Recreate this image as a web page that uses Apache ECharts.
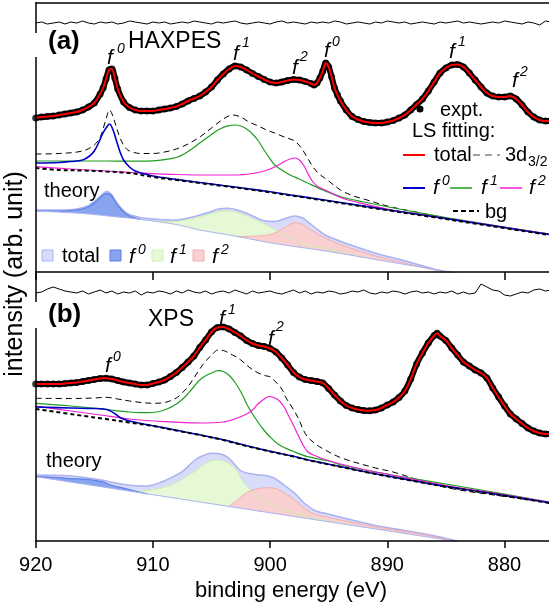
<!DOCTYPE html>
<html>
<head>
<meta charset="utf-8">
<script src="https://cdn.jsdelivr.net/npm/echarts@6/dist/echarts.min.js"></script>
<style>
html,body{margin:0;padding:0;background:#fff;}
#chart{width:549px;height:607px;}
</style>
</head>
<body>
<div id="chart"></div>
<script>
// Binding-energy axis (eV, plotted high to low)
const energyTicks = [880, 890, 900, 910, 920];

// ---------- (a) HAXPES ----------
const exptA = [[920,154],[919.5,155],[919,155.5],[918.5,156],[918,157],[917.5,158],[917,159],[916.5,160],[916,162],[915.5,165],[915,169],[914.5,178],[914.25,184],[914,193],[913.75,202],[913.5,203],[913.25,194],[913,183],[912.5,170],[912,164.5],[911.5,162],[911,161],[910.5,161],[910,161],[909.5,162],[909,163],[908.5,164],[908,165.5],[907.5,168],[907,171],[906.5,173.5],[906,176],[905.5,180],[905,185],[904.5,192],[904,198],[903.5,203],[903,206],[902.5,205],[902,202],[901.5,198.5],[901,195.5],[900.5,192.5],[900,190],[899.5,189],[899,190],[898.5,191.5],[898,192.5],[897.5,192],[897,190.5],[896.5,188.5],[896.25,187],[896,189],[895.75,194],[895.5,201],[895.25,209],[895,205],[894.75,195],[894.5,184],[894.25,177],[894,171],[893.5,162],[893,155.5],[892.5,152.5],[892,150.5],[891.5,149.5],[891,149],[890.5,149],[890,150],[889.5,151.5],[889,154],[888.5,157],[888,162],[887.5,167.5],[887,173],[886.5,181],[886,190],[885.5,199],[885,204],[884.5,207],[884,207.5],[883.5,205],[883,199],[882.5,192],[882,185],[881.5,179],[881,176],[880.5,175],[880,175],[879.5,176],[879,173],[878.5,167],[878,160],[877.5,155],[877,152],[876.5,151],[876,151]];
const bgA = [[920,104],[918,102],[916,101.5],[914,100.5],[912,99],[910,95],[908,92],[906,89],[904,86],[902,83],[900,79.7],[897,74.4],[894,69],[890,61.8],[886,54.7],[882,47.5],[876,36.7]];
const f0A = [[920,109],[918,109.5],[917,110.5],[916,112],[915.4,116],[915,121],[914.6,130],[914.3,138],[914,144],[913.7,148],[913.4,142],[913.1,131],[912.8,120],[912.5,112],[912,105],[911.5,101],[911,99],[910,96],[908,92.6],[906,89.5],[904,86.5],[902,83.5],[900,80.2],[897,74.9],[894,69.5],[890,62.3],[886,55.2],[882,48],[876,37.2]];
const f1A = [[920,111],[917,111],[914,111],[912,110.8],[910,111.2],[909,112.3],[908,114.5],[907.5,117],[907,120.5],[906.5,124.5],[906,129],[905.3,135],[904.7,140],[904.2,143.5],[903.6,146.2],[903,147],[902.5,146],[902,143],[901.5,138],[901,131],[900.4,120],[899.6,107],[899,102],[898.3,97],[897.5,93],[896.8,89],[895.5,82],[893.9,75],[892,70],[889,63],[885,54.5],[880,44.8],[876,37.7]];
const f2A = [[920,105.3],[917,103],[914,101],[911,99],[908,97.5],[905,97],[903,97],[901.5,98.5],[900.5,101],[899.6,105],[898.7,111],[898.3,113],[897.9,114],[897.5,112],[897.1,106],[896.8,99],[896.4,91],[896,86],[895.3,82],[894.6,78],[893.9,74],[892.5,69.5],[890,63],[886,55.5],[882,48.3],[876,37.5]];
const d32A = [[920,118],[918,118.5],[916,121],[915,127],[914.5,135],[914.2,145],[913.95,155],[913.7,162],[913.45,157],[913.15,146],[912.8,134],[912.4,125],[912,121],[911,118.5],[910,118.5],[909,120],[908,123],[907,128],[906,135],[905,144],[904,153],[903.2,157],[902.5,155],[901.8,150],[901,146],[900.3,142],[899.6,139],[899,136],[898.3,133],[897.9,131],[897.4,125],[896.9,116],[896.4,106],[895.9,99],[895,91],[894,82],[893,76.5],[892,73],[890,66],[888,61],[885,54],[882,48.5],[879,43],[876,37.7]];
const residA = [249,250,248,249,250,248,250,249,251,249,248,250,249,250,248,249,251,250,249,248,250,249,250,248,249,250,249,251,250,249,248,250,249,250,251,249,248,249,250,249,248,250,251,249,250,249,248,250,249,250,249,251,250,248,249,250,249,248,250,249,251,250,249,250,248,249,250,249,248,250,249,250,251,249,250,249,248,249,250,249,251,250,249,248,250,249,247,251,250];
// theory (a)
const thBaseA = [[920,61],[916,58.5],[913,55],[911.1,52.7],[908,47.5],[906,42],[903,36],[899.75,28.7],[895,20.5],[890,10.5],[885.67,2],[884,-1.5]];
const thTotA = [[920,62],[918,62],[916.5,63],[915.5,66.5],[914.8,72.5],[914.3,78],[913.95,80.5],[913.6,78.5],[913.2,71.5],[912.9,66.5],[912.4,60.5],[911.9,57],[911.1,54.5],[910,53],[909,52.3],[908.2,52],[907,54],[906,57],[905,60.5],[904.5,62.7],[903.6,63.7],[902.8,62],[902,58.7],[901.3,55],[900.6,51.5],[899.6,50.5],[898.7,53.5],[897.9,56],[897.2,54],[896.8,50.3],[896,43],[895.3,37],[894.5,33],[893.9,30.3],[891,18.7],[888.2,10.3],[885.7,2],[884,-1.5]];
const thF0A = [[920,61],[918,61],[916.5,62],[915.5,65],[914.8,71],[914.3,76.5],[913.95,78.7],[913.6,77],[913.2,70],[912.9,65],[912.4,59],[911.9,55.5],[911.1,52.7]];
const thF1A = [[911.1,52.7],[910,51],[909,50.6],[908.2,50.3],[907,52.5],[906,55.3],[905,58.5],[904.5,60.3],[903.6,61],[902.8,59.5],[902,56],[901.3,52.5],[900.6,48.7],[899.8,44],[899,38],[898,33],[897,27],[895,23],[893,17],[892,14.5]];
const thF2A = [[903,36],[902.6,35.2],[901.5,35.8],[900.5,36.5],[899.6,39],[898.7,44.5],[897.9,49.3],[897.2,47.5],[896.8,44],[895.3,34],[893.9,27],[891,16],[888.2,8],[885.7,1.3],[884,-1.5]];

// ---------- (b) XPS ----------
const exptB = [[920,157],[919.5,157],[919,157],[918.5,157],[918,157],[917.5,157.5],[917,158],[916.5,158.5],[916,159.5],[915.5,160.5],[915,161.5],[914.5,162.5],[914,162.7],[913.5,162],[913,160.5],[912.5,159],[912,158],[911.5,157],[911,156],[910.5,156],[910,157.5],[909.5,159],[909,161],[908.5,164.5],[908,168.5],[907.5,173.5],[907,179],[906.5,185],[906,193.5],[905.5,201],[905,209],[904.5,213.5],[904,214],[903.5,212],[903,208.5],[902.5,205],[902,200.5],[901.5,197.5],[901,195.5],[900.5,194.5],[900,192.5],[899.5,189],[899,183],[898.5,176],[898,168.5],[897.5,164],[897,161.5],[896.5,160.5],[896,159.5],[895.5,158],[895,152.5],[894.5,146],[894,140],[893.5,135.5],[893,133],[892.5,131.5],[892,130.5],[891.5,130.3],[891,131],[890.5,133],[890,136],[889.5,139],[889,143.5],[888.5,150],[888,162],[887.5,177],[887,188],[886.5,198],[886,205.5],[885.75,207.7],[885.5,205],[885,200.5],[884.5,193],[884,186],[883.5,179],[883,175],[882.5,171],[882,168],[881.5,163],[881,153],[880.5,144],[880,135],[879.5,127],[879,122],[878.5,117.5],[878,113],[877.5,110],[877,108],[876.5,107],[876,107]];
const bgB = [[920,132],[916,125.2],[914,122],[912,118.5],[910,115],[908,110.5],[906,106],[904,101],[902,95],[900,89.5],[898,84.5],[896.8,81],[893.9,74],[891,67],[888.2,61],[884.6,53.5],[880.4,46],[876,37.6]];
const f0B = [[920,134],[917,133],[915,132.5],[914.2,132],[913.7,130.5],[913.2,127],[912.8,123.5],[912.3,121],[911.8,119.5],[911,117.5],[910,115.3],[909.4,114],[908,110.7],[906,106.2],[904,101.2],[902,95.2],[900,89.7],[898,84.7],[896.8,81.2],[893.9,74.2],[891,67.2],[888.2,61.2],[884.6,53.7],[880.4,46.2],[876,37.8]];
const f1B = [[920,137.7],[917,135],[914,131.5],[912,129],[911,128.3],[910,128.5],[909.3,130],[908.7,132.5],[908.2,135.5],[907.7,139.5],[907.1,146],[906.6,153],[906.1,160],[905.6,164.5],[905,168],[904.45,170.3],[903.9,169],[903.4,164.5],[902.9,157],[902.4,147],[902,137],[901.6,129],[901.1,120],[900.6,112],[900,104],[899.2,96],[898,89.5],[896.8,84.3],[895,80],[893.9,76],[891,69],[888,62.8],[884,55],[880,46.8],[876,38.5]];
const f2B = [[920,135],[917,130],[914.5,126],[912,122],[909,119.3],[906,118],[904,119],[903,122],[902,127],[901.5,131],[901,137.5],[900.5,142],[900.1,144.5],[899.7,143.5],[899.3,141],[898.8,134],[898.5,127],[898.1,118],[897.7,108],[897.3,98.5],[896.8,89.3],[896,84.5],[895.3,81.5],[894,77],[892,71.5],[889,64.5],[885,55.5],[880.4,47],[876,38.5]];
const d32B = [[920,142.7],[917,142.5],[915,143],[914,143.7],[913,142],[912,140],[911,138.5],[910,137.7],[909,138.5],[908,143],[907.5,148],[907,154.3],[906.5,163],[906,172],[905.5,180],[905,185.5],[904.45,191],[904,190.5],[903.2,186],[902.5,181],[901.7,173],[901,168],[900.3,165],[900,164.3],[899.6,160],[899,152],[898.7,144.3],[898.2,135],[897.6,123],[897.2,112],[896.8,104],[896,96],[895.3,91],[893.9,83],[891,73],[889.6,69.3],[885.3,54.3],[880,44.5],[876,38.5]];
const residB = [248,249,252,254,252,250,249,248,250,247,249,251,248,250,247,249,248,250,246,249,248,250,249,247,250,248,251,249,248,250,247,249,250,248,251,249,247,250,248,249,250,248,247,249,251,248,250,247,249,248,250,249,247,248,250,249,251,248,247,249,248,250,249,247,249,250,248,249,247,249,248,250,247,249,247,248,257,254,251,250,246,245,247,249,248,251,252,250,251];
// theory (b)
const thBaseB = [[920,64.3],[910,46.3],[900,28.2],[890,10.2],[884,-0.6]];
const thTotB = [[920,66],[917,65],[914.8,61.7],[912.1,56],[910.5,55],[909.2,59.3],[908.5,63],[907.5,69.3],[906.4,81],[905.7,85.5],[905,87.7],[904.2,87],[903.7,84.3],[903.2,79],[902.6,71],[901.9,67.7],[900.8,65.8],[900.3,65.3],[899.6,62.7],[898.7,55],[897.9,47.7],[897,37],[896.1,30],[895.3,27.7],[893,21],[891,15.5],[888,9.5],[885.3,3.5],[884,0]];
const thF0B = [[920,64.3],[918,63.5],[917.4,62.7],[915.5,61.5],[914.8,60.3],[914.1,58.5],[913.6,56],[912.2,52],[911,48.5],[910.5,47.2]];
const thF1B = [[911.6,49.3],[910.5,50.5],[909.2,53],[908.2,57.5],[907.1,64.3],[906.4,70],[905.7,76],[905,80.5],[904.5,81],[904,80],[903.3,76],[902.8,70],[902.4,61],[902,55],[901.7,51],[901.2,46],[900.5,40],[899.6,35],[898.5,30],[897,25],[895,20],[893,16]];
const thF2B = [[903.5,35],[902.9,40],[902.4,45],[901.9,49],[901.2,52],[900.3,53.3],[899.6,52.7],[898.7,47.5],[897.9,41],[897.1,33],[896.4,28],[895.3,24.3],[894,21],[891,14],[888,8.5],[885.3,2.7],[884,-0.6]];

// residuals are sampled every 0.5 eV starting at 920 eV
const residStep = 0.5;
const residPairs = arr => arr.map((v, i) => [920 - i * residStep, v]);

const FONT = '"Liberation Sans", Arial, Helvetica, sans-serif';
const C = {
  red: '#ff0000', blue: '#0000c8', green: '#1e9e1e', magenta: '#f21fd2',
  totFill: '#d9dbfa', totEdge: '#aab2f0',
  f0Fill: '#88a4ee', f0Edge: '#5c7fe4',
  f1Fill: '#e6f9d6', f1Edge: '#cdeeb5',
  f2Fill: '#f9cfcf', f2Edge: '#f3adad',
  baseLine: '#a9b4f0'
};

function lineS(data, xi, yi, color, width, dash, smooth) {
  return {
    type: 'line', data: data, xAxisIndex: xi, yAxisIndex: yi,
    symbol: 'none', smooth: smooth === undefined ? 0.35 : smooth,
    lineStyle: { color: color, width: width, type: dash || 'solid' },
    silent: true, animation: false
  };
}
function areaS(data, xi, yi, fill, edge, edgeWidth) {
  const s = lineS(data, xi, yi, edge, edgeWidth, 'solid');
  s.areaStyle = { color: fill, opacity: 1, origin: 'start' };
  return s;
}
function dots(data, xi, yi) {
  return {
    type: 'scatter', data: data, xAxisIndex: xi, yAxisIndex: yi,
    symbol: 'circle', symbolSize: 7, itemStyle: { color: '#000' },
    silent: true, animation: false
  };
}
function panelSeries(xi, yi, p) {
  return [
    // theory spectra (filled from baseline)
    areaS(p.thTot, xi, yi, C.totFill, C.totEdge, 1.5),
    areaS(p.thF1, xi, yi, C.f1Fill, C.f1Edge, 1),
    areaS(p.thF2, xi, yi, C.f2Fill, C.f2Edge, 1),
    areaS(p.thF0, xi, yi, C.f0Fill, C.f0Edge, 1.2),
    // white below the theory baseline
    areaS(p.thBase, xi, yi, '#ffffff', C.baseLine, 1),
    // residual
    lineS(residPairs(p.resid), xi, yi, '#000', 1, 'solid', false),
    // fit components
    lineS(p.d32, xi, yi, '#000', 1, [6, 4]),
    lineS(p.f1, xi, yi, C.green, 1.2),
    lineS(p.f2, xi, yi, C.magenta, 1.2),
    lineS(p.f0, xi, yi, C.blue, 1.6),
    lineS(p.bg, xi, yi, '#000', 2, [4, 3]),
    // experiment (dots over a dark band) and total fit
    lineS(p.expt, xi, yi, '#000', 6, 'solid', 0.3),
    dots(p.expt, xi, yi),
    lineS(p.expt, xi, yi, C.red, 2, 'solid', 0.3)
  ];
}

const axisLineStyle = { color: '#000', width: 1.5 };
function xAx(grid, pos, opts) {
  return Object.assign({
    gridIndex: grid, type: 'value', inverse: true, min: 870, max: 920, interval: 10,
    position: pos, z: 10,
    axisLine: { show: true, onZero: false, lineStyle: axisLineStyle },
    axisTick: { show: false }, axisLabel: { show: false }, splitLine: { show: false }
  }, opts || {});
}
function yAx(grid) {
  return {
    gridIndex: grid, type: 'value', min: 0, max: 269, z: 10,
    axisLine: { show: true, onZero: false, lineStyle: axisLineStyle },
    axisTick: { show: false }, axisLabel: { show: false }, splitLine: { show: false }
  };
}

function txt(x, y, s, size, extra) {
  return {
    type: 'text', x: x, y: y, z: 100,
    style: Object.assign({
      text: s, fontFamily: FONT, fontSize: size, fill: '#000',
      textAlign: 'left', align: 'left', textVerticalAlign: 'middle', verticalAlign: 'middle'
    }, extra || {})
  };
}
// italic f with superscript index
function fLab(x, y, sup, sx, sy, size, supSize) {
  return [
    txt(x, y, 'f', size || 21, { fontStyle: 'italic' }),
    txt(sx, sy, sup, supSize || 14, { fontStyle: 'italic' })
  ];
}
function seg(x1, y1, x2, y2, color, w, dash) {
  return { type: 'line', z: 100, shape: { x1: x1, y1: y1, x2: x2, y2: y2 },
    style: { stroke: color, lineWidth: w, lineDash: dash || null } };
}
function box(x, y, fill, stroke) {
  return { type: 'rect', z: 100, shape: { x: x, y: y, width: 11, height: 11 },
    style: { fill: fill, stroke: stroke, lineWidth: 1 } };
}

const graphics = [].concat(
  // gaps in the left axis behind the panel labels
  [{ type: 'rect', z: 90, shape: { x: 32, y: 33, width: 7, height: 24 }, style: { fill: '#fff' } },
   { type: 'rect', z: 90, shape: { x: 32, y: 302, width: 7, height: 26 }, style: { fill: '#fff' } }],
  [txt(48, 42, '(a)', 26, { fontWeight: 'bold' }), txt(128, 42, 'HAXPES', 23),
   txt(48, 315, '(b)', 26, { fontWeight: 'bold' }), txt(148, 320, 'XPS', 23)],
  fLab(107, 58, '0', 117, 49), fLab(233, 54, '1', 242, 43), fLab(292, 68, '2', 300, 57),
  fLab(324, 51, '0', 332, 42), fLab(449, 52, '1', 458, 42), fLab(512, 81, '2', 520, 72),
  fLab(105, 366, '0', 113, 357), fLab(219, 319, '1', 228, 310), fLab(268, 339, '2', 276, 327),
  // fit legend
  [{ type: 'circle', z: 100, shape: { cx: 420, cy: 109, r: 3.5 }, style: { fill: '#000' } },
   txt(440, 110, 'expt.', 20), txt(412, 131, 'LS fitting:', 20),
   seg(403, 155, 425, 155, C.red, 2), txt(434, 155, 'total', 20),
   seg(473, 155, 500, 155, '#444', 1.2, [7, 5]), txt(505, 155, '3d', 20), txt(528, 162, '3/2', 14),
   seg(403, 188, 425, 188, C.blue, 2), seg(450, 188, 472, 188, C.green, 1.5), seg(500, 188, 522, 188, C.magenta, 1.5),
   seg(453, 211, 479, 211, '#000', 2, [5, 3]), txt(485, 212, 'bg', 20)],
  fLab(433, 188, '0', 442, 181), fLab(481, 188, '1', 490, 181), fLab(529, 188, '2', 538, 181),
  // theory legend
  [txt(44, 191, 'theory', 20), txt(46, 461, 'theory', 20),
   box(42, 250, C.totFill, C.totEdge), txt(62, 256, 'total', 20),
   box(110, 250, C.f0Fill, C.f0Edge), box(152, 250, C.f1Fill, C.f1Edge), box(193, 250, C.f2Fill, C.f2Edge)],
  fLab(129, 257, '0', 138, 250), fLab(170, 257, '1', 179, 250), fLab(212, 257, '2', 221, 250),
  // axis titles
  [txt(291, 591, 'binding energy (eV)', 22, { textAlign: 'center', align: 'center' }),
   Object.assign(txt(15, 274, 'intensity (arb. unit)', 25, { textAlign: 'center', align: 'center' }), { rotation: Math.PI / 2 })]
);

const chart = echarts.init(document.getElementById('chart'), null, { renderer: 'canvas' });
chart.setOption({
  animation: false,
  backgroundColor: '#fff',
  textStyle: { fontFamily: FONT },
  grid: [
    { left: 35.7, top: 3, width: 586, height: 269, outerBoundsMode: 'none', containLabel: false },
    { left: 35.7, top: 272, width: 586, height: 269, outerBoundsMode: 'none', containLabel: false }
  ],
  xAxis: [
    xAx(0, 'top'),
    xAx(1, 'top', { axisTick: { show: true, inside: true, length: 8, lineStyle: axisLineStyle } }),
    xAx(1, 'bottom', {
      axisTick: { show: true, inside: false, length: 7, lineStyle: axisLineStyle },
      axisLabel: { show: true, fontSize: 20, color: '#000', margin: 14, fontFamily: FONT }
    })
  ],
  yAxis: [yAx(0), yAx(1)],
  series: [].concat(
    panelSeries(0, 0, { expt: exptA, bg: bgA, f0: f0A, f1: f1A, f2: f2A, d32: d32A, resid: residA,
      thBase: thBaseA, thTot: thTotA, thF0: thF0A, thF1: thF1A, thF2: thF2A }),
    panelSeries(2, 1, { expt: exptB, bg: bgB, f0: f0B, f1: f1B, f2: f2B, d32: d32B, resid: residB,
      thBase: thBaseB, thTot: thTotB, thF0: thF0B, thF1: thF1B, thF2: thF2B })
  ),
  graphic: { elements: graphics }
});
</script>
</body>
</html>
